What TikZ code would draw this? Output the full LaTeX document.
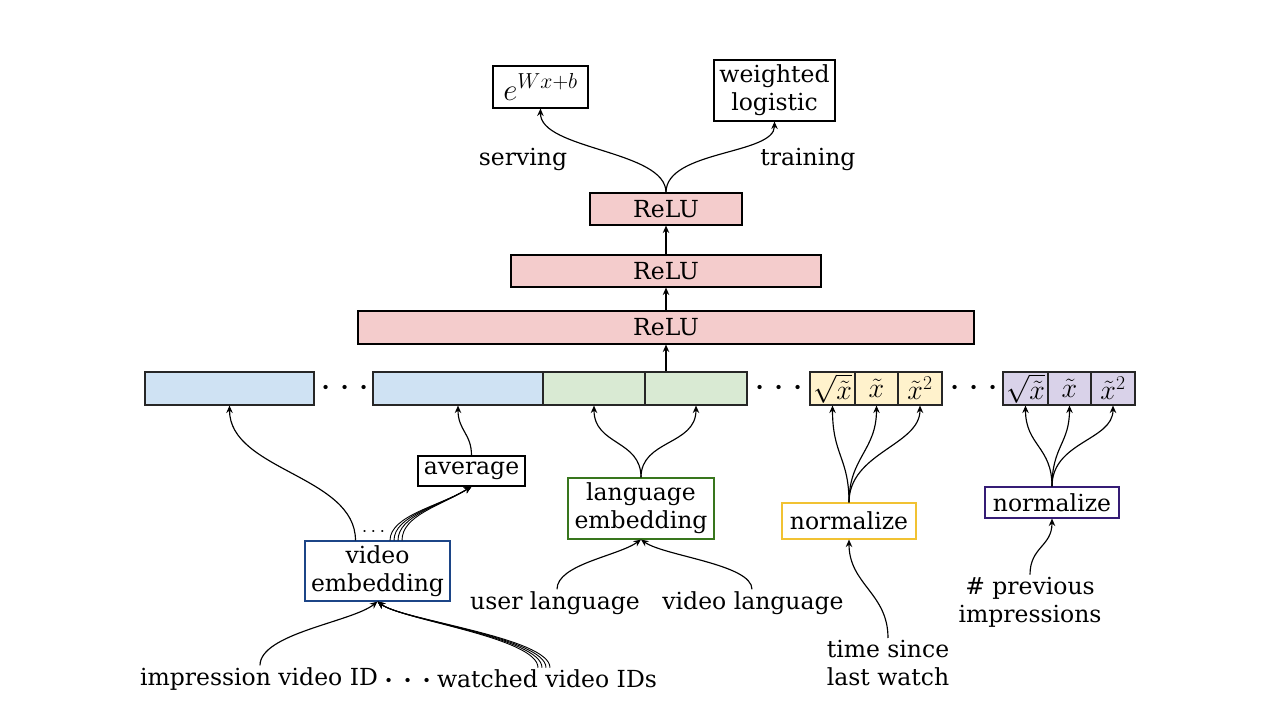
\RequirePackage{fix-cm}
\documentclass[tikz,border=0pt]{standalone}
\usepackage{fontspec}
\setmainfont{DejaVu Serif}
\usetikzlibrary{arrows.meta}
\definecolor{pinkc}{HTML}{F4CCCC}
\definecolor{bluec}{HTML}{CFE2F3}
\definecolor{greenc}{HTML}{D9EAD3}
\definecolor{yellowc}{HTML}{FFF2CC}
\definecolor{purplec}{HTML}{D9D2E9}
\definecolor{bluedraw}{HTML}{1C4587}
\definecolor{greendraw}{HTML}{38761D}
\definecolor{yellowdraw}{HTML}{F1C232}
\definecolor{purpledraw}{HTML}{351C75}
\tikzset{
  rowbox/.style={draw=black!85, line width=1.1pt, minimum height=33pt, inner sep=0pt, font=\fontsize{28}{28}\selectfont},
  tbox/.style={draw, line width=1.1pt, inner sep=0pt, align=center},
  lbl/.style={inner sep=2pt, align=center},
  arr/.style={line width=1.15pt, -{Stealth[length=7.5pt,width=6.5pt,inset=2.5pt]}},
  dotsnode/.style={inner sep=0pt, font=\fontsize{40}{40}\selectfont},
}
\newcommand{\threedots}{${\cdot}\hspace{8pt}{\cdot}\hspace{8pt}{\cdot}$}
\begin{document}
\begin{tikzpicture}[x=1pt,y=-1pt,font=\fontsize{23.5}{28}\selectfont]
\useasboundingbox (0,0) rectangle (1280,718);
% top outputs
\node[tbox, minimum width=95pt, minimum height=42pt, font=\fontsize{31}{31}\selectfont] (exp) at (540.5,87) {$e^{Wx+b}$};
\node[tbox, minimum width=121pt, minimum height=61pt] (wl) at (774.5,90.5) {weighted\\logistic};
\node[lbl] (serv) at (523,159) {serving};
\node[lbl] (train) at (808,159) {training};
% ReLU layers
\node[tbox, fill=pinkc, minimum width=152pt, minimum height=32pt] (r1) at (666,209) {ReLU};
\node[tbox, fill=pinkc, minimum width=310pt, minimum height=32pt] (r2) at (666,271) {ReLU};
\node[tbox, fill=pinkc, minimum width=616pt, minimum height=33pt] (r3) at (666,327.5) {ReLU};
% embedding row
\node[rowbox, fill=bluec, minimum width=169pt] (b1) at (229.5,388.5) {};
\node[dotsnode] (dA) at (345,389) {\threedots};
\node[rowbox, fill=bluec, minimum width=170pt] (b2) at (458,388.5) {};
\node[rowbox, fill=greenc, minimum width=102pt] (g1) at (594,388.5) {};
\node[rowbox, fill=greenc, minimum width=102pt] (g2) at (696,388.5) {};
\node[dotsnode] (dB) at (779,389) {\threedots};
\node[rowbox, fill=yellowc, minimum width=45pt] (y1) at (832.5,388.5) {$\sqrt{\tilde{x}}$};
\node[rowbox, fill=yellowc, minimum width=43pt] (y2) at (876.5,388.5) {$\tilde{x}$};
\node[rowbox, fill=yellowc, minimum width=44pt] (y3) at (920,388.5) {$\tilde{x}^2$};
\node[dotsnode] (dC) at (974,389) {\threedots};
\node[rowbox, fill=purplec, minimum width=45pt] (p1) at (1025.5,388.5) {$\sqrt{\tilde{x}}$};
\node[rowbox, fill=purplec, minimum width=43pt] (p2) at (1069.5,388.5) {$\tilde{x}$};
\node[rowbox, fill=purplec, minimum width=44pt] (p3) at (1113,388.5) {$\tilde{x}^2$};
% middle boxes
\node[tbox, minimum width=107pt, minimum height=30pt] (avg) at (471.5,471) {average};
\node[tbox, draw=greendraw, minimum width=146pt, minimum height=61pt] (lemb) at (641,508.5) {language\\embedding};
\node[tbox, draw=yellowdraw, minimum width=134pt, minimum height=36pt] (ynorm) at (849,521) {normalize};
\node[tbox, draw=purpledraw, minimum width=134pt, minimum height=31pt] (pnorm) at (1052,502.5) {normalize};
\node[tbox, draw=bluedraw, minimum width=145pt, minimum height=60pt] (vemb) at (377.5,571) {video\\embedding};
\node[inner sep=0pt, font=\fontsize{20}{20}\selectfont] (dsmall) at (373.5,532) {$\cdots$};
% inputs
\node[lbl] (ul) at (555,603) {user language};
\node[lbl] (vl) at (753,603) {video language};
\node[lbl] (imp) at (259,679) {impression video ID};
\node[dotsnode] (dD) at (408,682) {\threedots};
\node[lbl] (wat) at (547,679) {watched video IDs};
\node[lbl] (tsl) at (888,663) {time since\\last watch};
\node[lbl] (npi) at (1030,602) {\# previous\\impressions};
% connectors top
\draw[arr] (r1.north) .. controls (666,150) and (540,150) .. (exp.south);
\draw[arr] (r1.north) .. controls (666,150) and (774.5,155) .. (wl.south);
\draw[arr] (r2.north) -- (r1.south);
\draw[arr] (r3.north) -- (r2.south);
\draw[arr] (r3.south |- g2.north) -- (r3.south);
% video embedding outputs
\draw[arr] ([xshift=-22pt]vemb.north) .. controls ([xshift=-22pt,yshift=65pt]vemb.north) and ([yshift=-65pt]b1.south) .. (b1.south);
\foreach \s in {12.5,16.5,20.5,24.5}{
  \draw[arr, line width=0.9pt] ([xshift=\s pt]vemb.north) .. controls ([xshift=\s pt,yshift=25pt]vemb.north) and (440,506) .. (avg.south);
}
\draw[arr] (avg.north) .. controls ([yshift=22pt]avg.north) and ([yshift=-25pt]b2.south) .. (b2.south);
% language embedding
\draw[arr] (lemb.north) .. controls ([yshift=38pt]lemb.north) and ([yshift=-40pt]g1.south) .. (g1.south);
\draw[arr] (lemb.north) .. controls ([yshift=38pt]lemb.north) and ([yshift=-40pt]g2.south) .. (g2.south);
\draw[arr] ([xshift=2pt]ul.north) .. controls ([xshift=2pt,yshift=25pt]ul.north) and (618,556) .. (lemb.south);
\draw[arr] ([xshift=-1pt]vl.north) .. controls ([xshift=-1pt,yshift=25pt]vl.north) and (664,556) .. (lemb.south);
% video embedding inputs
\draw[arr] ([xshift=1pt]imp.north) .. controls ([xshift=1pt,yshift=32pt]imp.north) and (352,622) .. (vemb.south);
\foreach \s in {-9,-5,-1,3}{
  \draw[arr, line width=0.9pt] ([xshift=\s pt]wat.north) .. controls ([xshift=\s pt,yshift=30pt]wat.north) and (402,620) .. (vemb.south);
}
% normalize (time since)
\draw[arr] (ynorm.north) .. controls ([yshift=45pt]ynorm.north) and ([yshift=-50pt]y1.south) .. (y1.south);
\draw[arr] (ynorm.north) .. controls ([yshift=45pt]ynorm.north) and ([yshift=-45pt]y2.south) .. (y2.south);
\draw[arr] (ynorm.north) .. controls ([yshift=50pt]ynorm.north) and ([yshift=-40pt]y3.south) .. (y3.south);
\draw[arr] (tsl.north) .. controls ([yshift=45pt]tsl.north) and ([yshift=-45pt]ynorm.south) .. (ynorm.south);
% normalize (previous impressions)
\draw[arr] (pnorm.north) .. controls ([yshift=40pt]pnorm.north) and ([yshift=-40pt]p1.south) .. (p1.south);
\draw[arr] (pnorm.north) .. controls ([yshift=40pt]pnorm.north) and ([yshift=-38pt]p2.south) .. (p2.south);
\draw[arr] (pnorm.north) .. controls ([yshift=45pt]pnorm.north) and ([yshift=-35pt]p3.south) .. (p3.south);
\draw[arr] (npi.north) .. controls ([yshift=28pt]npi.north) and ([yshift=-28pt]pnorm.south) .. (pnorm.south);
\end{tikzpicture}
\end{document}
